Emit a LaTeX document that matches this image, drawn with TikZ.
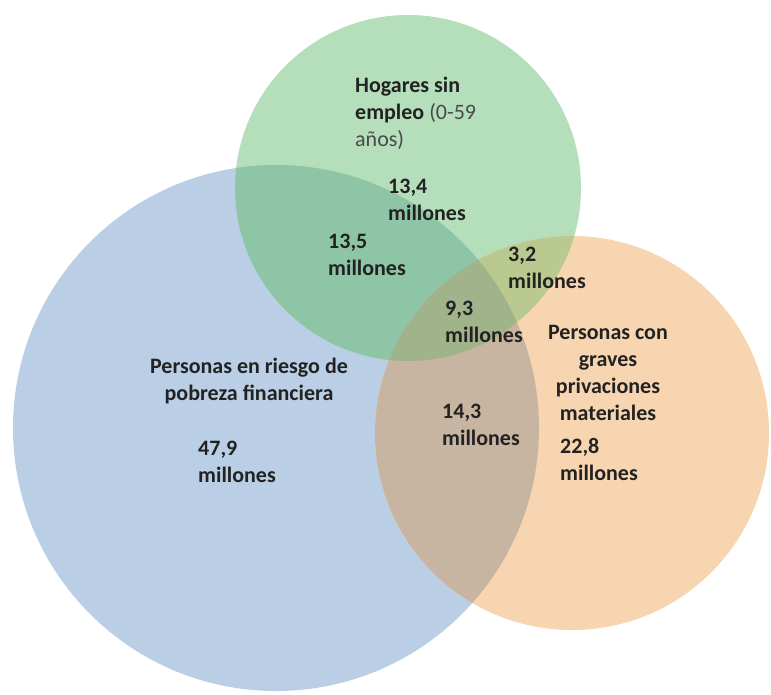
\documentclass[tikz,border=0pt]{standalone}
\usepackage{fontspec}
\setmainfont{Carlito}
\definecolor{cblue}{HTML}{BACFE6}
\definecolor{cgreen}{HTML}{B5DEBB}
\definecolor{corange}{HTML}{F8D5B1}
\definecolor{cbg}{HTML}{8EC5A6}
\definecolor{cgo}{HTML}{BAC98F}
\definecolor{cbo}{HTML}{C8B5A1}
\definecolor{cbgo}{HTML}{A0B38A}
\definecolor{ctext}{HTML}{222222}
\definecolor{cgrey}{HTML}{4A4A4A}
\tikzset{
  lbl/.style={font=\fontsize{22}{27}\selectfont\bfseries, text=ctext, inner sep=0pt, align=left, anchor=base west},
  lblc/.style={lbl, align=center, anchor=base},
}
\begin{document}
\begin{tikzpicture}[x=1pt,y=-1pt]
\useasboundingbox (0,0) rectangle (771,694);
\fill[white] (0,0) rectangle (771,694);
% circles
\fill[cblue] (276,428) circle (263);
\fill[cgreen] (408,188) circle (173);
\fill[corange] (572,433) circle (197);
\begin{scope}
  \clip (276,428) circle (263);
  \fill[cbg] (408,188) circle (173);
\end{scope}
\begin{scope}
  \clip (276,428) circle (263);
  \fill[cbo] (572,433) circle (197);
\end{scope}
\begin{scope}
  \clip (408,188) circle (173);
  \fill[cgo] (572,433) circle (197);
\end{scope}
\begin{scope}
  \clip (276,428) circle (263);
  \clip (408,188) circle (173);
  \fill[cbgo] (572,433) circle (197);
\end{scope}
% labels (anchor = baseline of last line)
\node[lbl] (hog) at (355,146) {Hogares sin\\empleo \textmd{\textcolor{cgrey}{(0-59}}\\\textmd{\textcolor{cgrey}{años)}}};
\node[lbl] (g) at (388,220) {13,4\\millones};
\node[lbl] (bg) at (328,275) {13,5\\millones};
\node[lbl] (go) at (508,288) {3,2\\millones};
\node[lbl] (bgo) at (445,342) {9,3\\millones};
\node[lbl] (bo) at (442,445) {14,3\\millones};
\node[lblc] (pob) at (249,400) {Personas en riesgo de\\pobreza financiera};
\node[lbl] (b) at (198,482) {47,9\\millones};
\node[lblc] (priv) at (608,420) {Personas con\\graves\\privaciones\\materiales};
\node[lbl] (o) at (560,480) {22,8\\millones};
\end{tikzpicture}
\end{document}
